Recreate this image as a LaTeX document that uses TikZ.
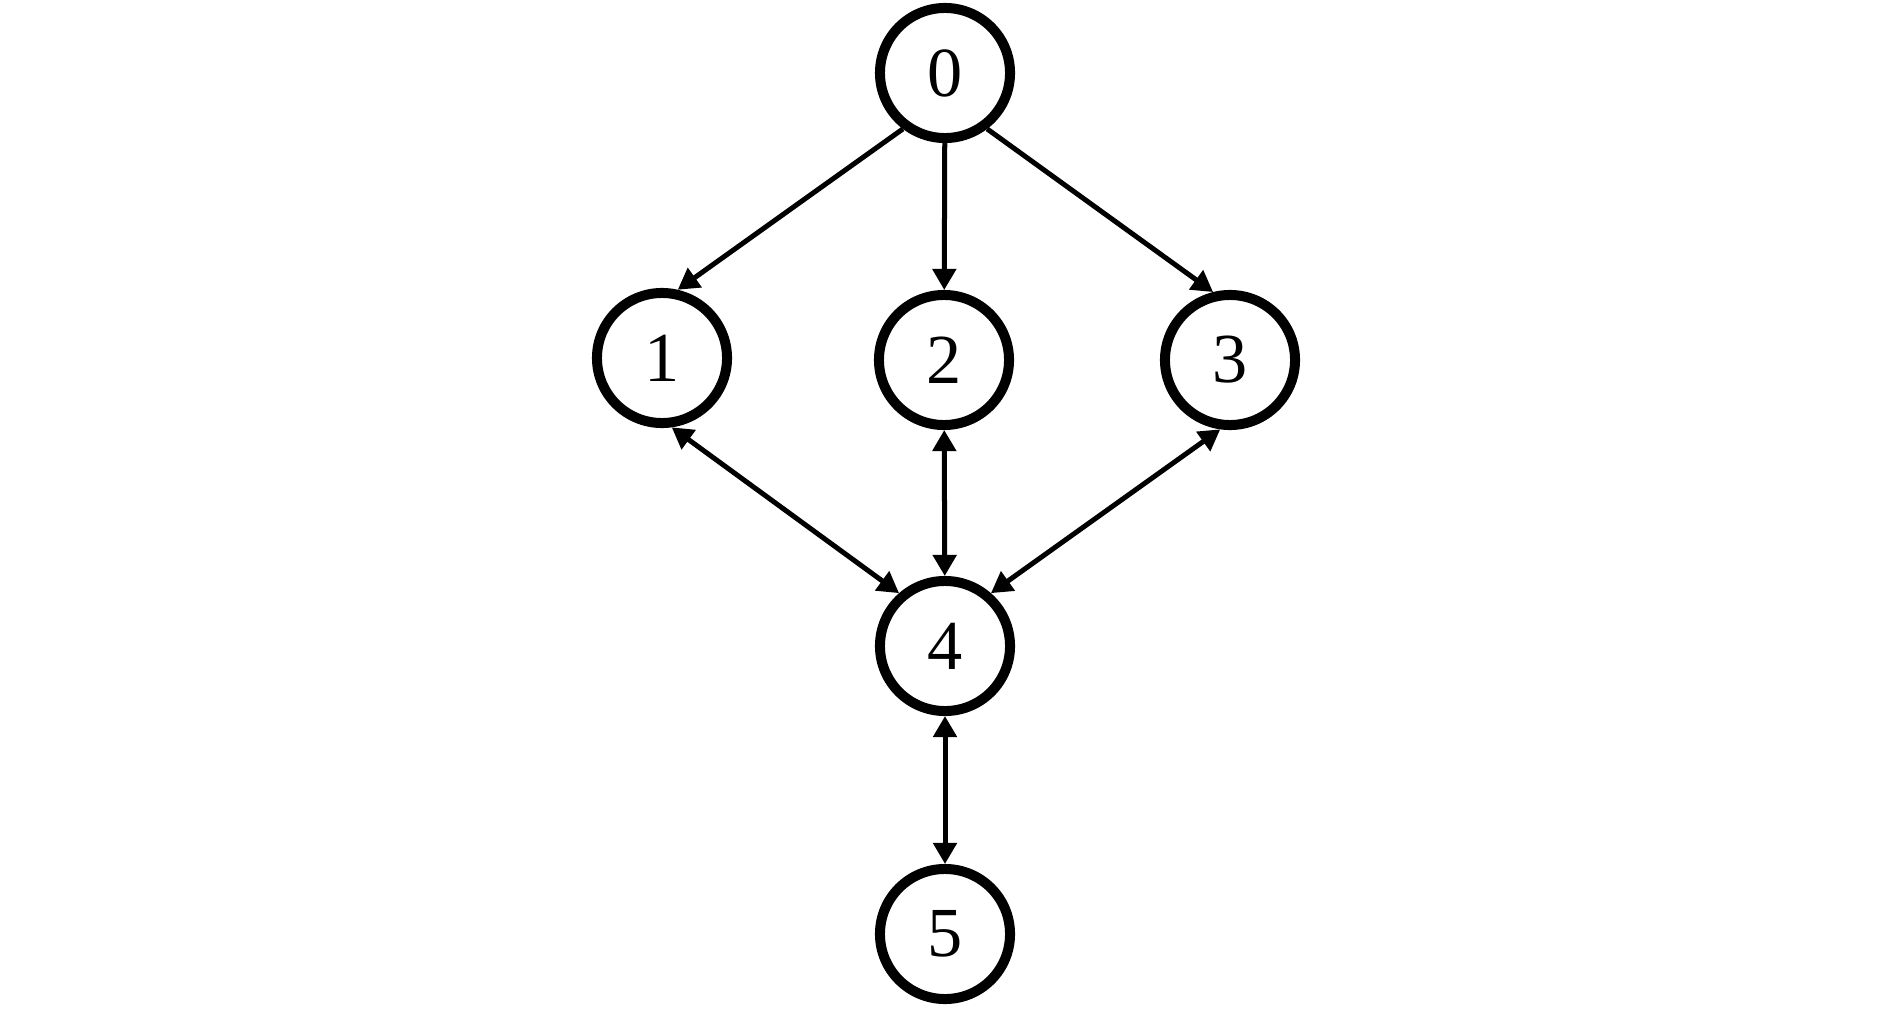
\documentclass[tikz,border=0pt]{standalone}
\usepackage{fontspec}
\setmainfont{Liberation Serif}
\usetikzlibrary{arrows.meta}
\begin{document}
\begin{tikzpicture}[x=0.01cm,y=-0.01cm,
  vertex/.style={circle,draw=black,line width=0.1cm,minimum size=1.30cm,inner sep=0pt,font=\fontsize{20}{23}\selectfont},
  conn/.style={line width=0.05cm,draw=black,-{Triangle[length=0.21cm,width=0.23cm]}},
  biconn/.style={line width=0.05cm,draw=black,{Triangle[length=0.21cm,width=0.23cm]}-{Triangle[length=0.21cm,width=0.23cm]}}]
\useasboundingbox (0,0) rectangle (1890,1018);
\node[vertex] (n0) at (945,73) {0};
\node[vertex] (n1) at (662,358) {1};
\node[vertex] (n2) at (944,360) {2};
\node[vertex] (n3) at (1230,360) {3};
\node[vertex] (n4) at (945,646) {4};
\node[vertex] (n5) at (945,934) {5};
\draw[conn] (n0.233) -- (n1.77);
\draw[conn] (n0) -- (n2);
\draw[conn] (n0.307) -- (n3.104);
\draw[biconn] (n1.278) -- (n4.131);
\draw[biconn] (n2) -- (n4);
\draw[biconn] (n3.262) -- (n4.49);
\draw[biconn] (n4) -- (n5);
\end{tikzpicture}
\end{document}
